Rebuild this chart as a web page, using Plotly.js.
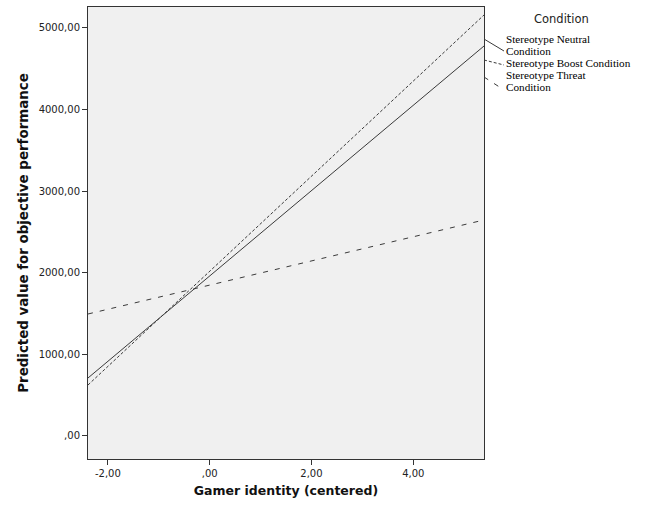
<!DOCTYPE html>
<html><head><meta charset="utf-8">
<script src="https://cdn.plot.ly/plotly-3.0.1.min.js"></script>
<style>html,body{margin:0;padding:0;background:#fff}#chart{width:645px;height:507px}</style>
</head><body><div id="chart"></div>
<script>
const gamerIdentity = [-2.39, 5.39];
const neutralPred = [711, 4779];
const boostPred = [625, 5159];
const threatPred = [1495, 2647];
const seriesNames = [["Stereotype Neutral", "Condition"], ["Stereotype Boost Condition"], ["Stereotype Threat", "Condition"]];
const legendTitle = "Condition";
const xTickVals = [-2, 0, 2, 4];
const xTickText = ["-2,00", ",00", "2,00", "4,00"];
const yTickVals = [0, 1000, 2000, 3000, 4000, 5000];
const yTickText = [",00", "1000,00", "2000,00", "3000,00", "4000,00", "5000,00"];

const lineCol = '#3a3a3a';
const dashes = ['solid', '3px,2px', '5px,7px'];
const traces = [
  {x: gamerIdentity, y: neutralPred, mode: 'lines', line: {color: lineCol, width: 1, dash: dashes[0]}, showlegend: false},
  {x: gamerIdentity, y: boostPred, mode: 'lines', line: {color: lineCol, width: 1, dash: dashes[1]}, showlegend: false},
  {x: gamerIdentity, y: threatPred, mode: 'lines', line: {color: lineCol, width: 1, dash: dashes[2]}, showlegend: false}
];

const serif = {family: 'Liberation Serif, serif', size: 11.2, color: '#000'};
const W = 645, H = 507;
const PL = 88, PR = 484, PT = 7, PB = 459;
function px(x){return (x - PL) / (PR - PL);}
function py(y){return (PB - y) / (PB - PT);}

// legend text line centres (pixel rows)
const lineRows = [[39, 51], [63], [75, 87]];
const annotations = [
  {xref: 'paper', yref: 'paper', x: px(561), y: py(19), text: legendTitle, showarrow: false, xanchor: 'center', yanchor: 'middle', font: {family: 'DejaVu Sans, sans-serif', size: 11.5, color: '#222'}}
];
seriesNames.forEach((lines, i) => {
  lines.forEach((t, j) => {
    annotations.push({xref: 'paper', yref: 'paper', x: px(505), y: py(lineRows[i][j]), text: t, showarrow: false, xanchor: 'left', yanchor: 'middle', align: 'left', font: serif, borderpad: 0});
  });
});
const symSeg = [[39, 504, 51], [60, 504, 65], [77, 501, 88]];
const shapes = symSeg.map((s, i) => ({type: 'line', xref: 'paper', yref: 'paper', x0: 1, y0: py(s[0]), x1: px(s[1]), y1: py(s[2]), line: {color: lineCol, width: 1, dash: dashes[i]}}));

const layout = {
  width: W, height: H,
  margin: {l: PL, r: W - PR, t: PT, b: H - PB},
  paper_bgcolor: '#ffffff',
  plot_bgcolor: '#f0f0f0',
  showlegend: false,
  xaxis: {
    range: [-2.39, 5.39], tickvals: xTickVals, ticktext: xTickText,
    ticks: 'outside', ticklen: 5, tickcolor: '#333', tickwidth: 1,
    showgrid: false, zeroline: false,
    showline: true, linecolor: '#333', linewidth: 1, mirror: true,
    tickfont: {family: 'DejaVu Sans, sans-serif', size: 10, color: '#222'},
    title: {text: 'Gamer identity (centered)', font: {family: 'DejaVu Sans, sans-serif', size: 12.5, color: '#111', weight: 'bold'}, standoff: 8}
  },
  yaxis: {
    range: [-282, 5257], tickvals: yTickVals, ticktext: yTickText,
    ticks: 'outside', ticklen: 5, tickcolor: '#333', tickwidth: 1,
    showgrid: false, zeroline: false,
    showline: true, linecolor: '#333', linewidth: 1, mirror: true,
    tickfont: {family: 'DejaVu Sans, sans-serif', size: 10, color: '#222'},
    title: {text: 'Predicted value for objective performance', font: {family: 'DejaVu Sans, sans-serif', size: 13.4, color: '#111', weight: 'bold'}, standoff: 6}
  },
  annotations: annotations,
  shapes: shapes
};
Plotly.newPlot('chart', traces, layout, {displayModeBar: false, staticPlot: true});
</script>
</body></html>
